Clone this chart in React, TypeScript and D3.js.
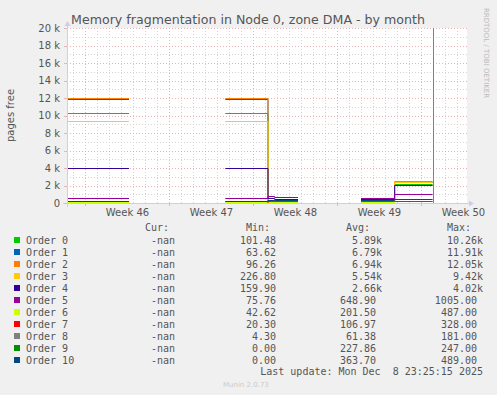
import React, { useEffect, useRef } from 'react';
import * as d3 from 'd3';

// time is in days from the left edge of the plot
const weekStarts = [1.54, 8.54, 15.54, 22.54, 29.54];
const weekLabels = ['Week 46', 'Week 47', 'Week 48', 'Week 49', 'Week 50'];
const sampleTimes = [0, 5.17, 13.19, 16.75, 17.3, 19.25, 24.5, 27.3, 30.47];
const spikeTimes = [30.47];

const seriesNames = ['Order 0', 'Order 1', 'Order 2', 'Order 3', 'Order 4', 'Order 5', 'Order 6', 'Order 7', 'Order 8', 'Order 9', 'Order 10'];
const seriesColors = ['#00cc00', '#0066b3', '#ff8000', '#ffcc00', '#330099', '#990099', '#ccff00', '#ff0000', '#808080', '#008f00', '#00487d'];

// value held from sampleTimes[i] until sampleTimes[i+1]; null = no data
const order0 = [10260, null, 10260, 200, 180, null, 300, 2200, null];
const order1 = [11910, null, 11910, 150, 140, null, 200, 2350, null];
const order2 = [12050, null, 12050, 180, 170, null, 250, 2550, null];
const order3 = [9420, null, 9420, 230, 220, null, 230, 2450, null];
const order4 = [4020, null, 4020, 600, 500, null, 450, 2100, null];
const order5 = [540, null, 540, 830, 690, null, 540, 1005, null];
const order6 = [100, null, 100, 60, 60, null, 60, 50, null];
const order7 = [50, null, 50, 328, 300, null, 20, 30, null];
const order8 = [30, null, 30, 20, 20, null, 20, 20, null];
const order9 = [200, null, 200, 240, 230, null, 220, 247, null];
const order10 = [270, null, 270, 300, 300, null, 350, 430, null];
const seriesValues = [order0, order1, order2, order3, order4, order5, order6, order7, order8, order9, order10];

const yTicks = [0, 2000, 4000, 6000, 8000, 10000, 12000, 14000, 16000, 18000, 20000];
const yTickLabels = ['0', '2 k', '4 k', '6 k', '8 k', '10 k', '12 k', '14 k', '16 k', '18 k', '20 k'];

const curVals = ['-nan', '-nan', '-nan', '-nan', '-nan', '-nan', '-nan', '-nan', '-nan', '-nan', '-nan'];
const minVals = ['101.48', '63.62', '96.26', '226.80', '159.90', '75.76', '42.62', '20.30', '4.30', '0.00', '0.00'];
const avgVals = ['5.89k', '6.79k', '6.94k', '5.54k', '2.66k', '648.90', '201.50', '106.97', '61.38', '227.86', '363.70'];
const maxVals = ['10.26k', '11.91k', '12.05k', '9.42k', '4.02k', '1005.00', '487.00', '328.00', '181.00', '247.00', '489.00'];

const W = 497;
const H = 395;
const plot = { left: 67, right: 467, top: 28, bottom: 203 };
const sans = "'DejaVu Sans', sans-serif";
const mono = "'DejaVu Sans Mono', monospace";

export default function App() {
  const ref = useRef<SVGSVGElement>(null);

  useEffect(() => {
    document.body.style.margin = '0';
    const svg = d3.select(ref.current);
    svg.selectAll('*').remove();

    const x = d3.scaleLinear().domain([0, 400 / 12]).range([plot.left, plot.right]);
    const y = d3.scaleLinear().domain([0, 20000]).range([plot.bottom, plot.top]);

    svg.append('rect').attr('width', W).attr('height', H).attr('fill', '#f0f0f0');
    svg.append('rect')
      .attr('x', plot.left).attr('y', plot.top)
      .attr('width', plot.right - plot.left).attr('height', plot.bottom - plot.top)
      .attr('fill', '#ffffff');

    const grid = svg.append('g').attr('shape-rendering', 'crispEdges');
    // minor horizontal (every 1k)
    d3.range(1000, 20001, 2000).forEach((v) => {
      grid.append('line')
        .attr('x1', plot.left).attr('x2', plot.right)
        .attr('y1', Math.round(y(v)) + 0.5).attr('y2', Math.round(y(v)) + 0.5)
        .attr('stroke', '#d4d4d4').attr('stroke-dasharray', '1,2');
    });
    // minor vertical (every day)
    d3.range(0.54, 33.3, 1).forEach((d) => {
      grid.append('line')
        .attr('x1', Math.round(x(d)) + 0.5).attr('x2', Math.round(x(d)) + 0.5)
        .attr('y1', plot.top).attr('y2', plot.bottom)
        .attr('stroke', '#d4d4d4').attr('stroke-dasharray', '1,2');
    });
    // major horizontal
    yTicks.slice(1).forEach((v) => {
      grid.append('line')
        .attr('x1', plot.left).attr('x2', plot.right)
        .attr('y1', Math.round(y(v)) + 0.5).attr('y2', Math.round(y(v)) + 0.5)
        .attr('stroke', '#e6b4b4').attr('stroke-dasharray', '1,2');
    });
    // major vertical (weeks)
    weekStarts.forEach((d) => {
      grid.append('line')
        .attr('x1', Math.round(x(d)) + 0.5).attr('x2', Math.round(x(d)) + 0.5)
        .attr('y1', plot.top).attr('y2', plot.bottom)
        .attr('stroke', '#e6b4b4').attr('stroke-dasharray', '1,2');
      grid.append('line')
        .attr('x1', Math.round(x(d)) + 0.5).attr('x2', Math.round(x(d)) + 0.5)
        .attr('y1', plot.bottom).attr('y2', plot.bottom + 3)
        .attr('stroke', '#e6b4b4');
    });

    // data lines
    const lineGen = d3.line<[number, number]>()
      .x((p) => x(p[0]))
      .y((p) => Math.round(y(p[1])) + 0.5)
      .curve(d3.curveStepAfter);

    const lines = svg.append('g').attr('fill', 'none').attr('stroke-width', 1);
    seriesValues.forEach((vals, si) => {
      let run: [number, number][] = [];
      const flush = () => {
        if (run.length > 1) {
          lines.append('path').attr('d', lineGen(run)).attr('stroke', seriesColors[si]);
        }
        run = [];
      };
      vals.forEach((v, i) => {
        if (v == null) {
          if (run.length) run.push([sampleTimes[i], run[run.length - 1][1]]);
          flush();
        } else {
          run.push([sampleTimes[i], v]);
        }
      });
      flush();
    });

    spikeTimes.forEach((t) => {
      svg.append('line')
        .attr('x1', Math.round(x(t)) + 0.5).attr('x2', Math.round(x(t)) + 0.5)
        .attr('y1', plot.bottom).attr('y2', plot.top)
        .attr('stroke', seriesColors[8]).attr('stroke-width', 1);
    });

    // axes
    const axisColor = '#c8cff2';
    svg.append('line')
      .attr('x1', plot.left - 4).attr('x2', plot.right + 2)
      .attr('y1', plot.bottom + 0.5).attr('y2', plot.bottom + 0.5)
      .attr('stroke', axisColor);
    svg.append('line')
      .attr('x1', plot.left + 0.5).attr('x2', plot.left + 0.5)
      .attr('y1', plot.bottom + 4).attr('y2', plot.top - 2)
      .attr('stroke', axisColor);
    svg.append('path')
      .attr('d', `M${plot.right + 2},${plot.bottom - 2.5} L${plot.right + 7},${plot.bottom + 0.5} L${plot.right + 2},${plot.bottom + 3.5} Z`)
      .attr('fill', axisColor);
    svg.append('path')
      .attr('d', `M${plot.left - 2.5},${plot.top - 2} L${plot.left + 0.5},${plot.top - 7} L${plot.left + 3.5},${plot.top - 2} Z`)
      .attr('fill', axisColor);

    // y labels
    yTicks.forEach((v, i) => {
      svg.append('line')
        .attr('x1', plot.left - 3).attr('x2', plot.left)
        .attr('y1', Math.round(y(v)) + 0.5).attr('y2', Math.round(y(v)) + 0.5)
        .attr('stroke', '#e6b4b4');
      svg.append('text')
        .attr('x', 60).attr('y', y(v) + 3.5)
        .attr('text-anchor', 'end')
        .attr('font-family', sans).attr('font-size', 10).attr('fill', '#555')
        .text(yTickLabels[i]);
    });

    // x labels
    weekStarts.forEach((d, i) => {
      svg.append('text')
        .attr('x', x(d + 3.5)).attr('y', 216)
        .attr('text-anchor', 'middle')
        .attr('font-family', sans).attr('font-size', 10).attr('fill', '#555')
        .text(weekLabels[i]);
    });

    svg.append('text')
      .attr('x', 248).attr('y', 24)
      .attr('text-anchor', 'middle')
      .attr('font-family', sans).attr('font-size', 12.6).attr('fill', '#555')
      .text('Memory fragmentation in Node 0, zone DMA - by month');

    svg.append('text')
      .attr('transform', `translate(14,${(plot.top + plot.bottom) / 2}) rotate(-90)`)
      .attr('text-anchor', 'middle')
      .attr('font-family', sans).attr('font-size', 10).attr('fill', '#555')
      .text('pages free');

    svg.append('text')
      .attr('transform', 'translate(484,53) rotate(90)')
      .attr('text-anchor', 'middle')
      .attr('font-family', sans).attr('font-size', 7).attr('fill', '#bbbbbb')
      .text('RRDTOOL / TOBI OETIKER');

    // legend
    const leg = svg.append('g').attr('font-family', mono).attr('font-size', 10).attr('fill', '#555');
    const headers: [string, number][] = [['Cur:', 145], ['Min:', 246], ['Avg:', 346], ['Max:', 447]];
    headers.forEach(([t, hx]) => {
      leg.append('text').attr('x', hx).attr('y', 231).text(t);
    });
    seriesNames.forEach((name, i) => {
      const cy = 240 + 12 * i;
      leg.append('rect')
        .attr('x', 14).attr('y', cy - 3).attr('width', 6).attr('height', 6)
        .attr('fill', seriesColors[i]);
      leg.append('text').attr('x', 26).attr('y', cy + 3.5).text(name);
      leg.append('text').attr('x', 175).attr('y', cy + 3.5).attr('text-anchor', 'end').text(curVals[i]);
      leg.append('text').attr('x', 276).attr('y', cy + 3.5).attr('text-anchor', 'end').text(minVals[i]);
      const a = avgVals[i];
      leg.append('text').attr('x', a.endsWith('k') ? 382 : 376).attr('y', cy + 3.5).attr('text-anchor', 'end').text(a);
      const m = maxVals[i];
      leg.append('text').attr('x', m.endsWith('k') ? 483 : 477).attr('y', cy + 3.5).attr('text-anchor', 'end').text(m);
    });
    leg.append('text')
      .attr('x', 483).attr('y', 374.5).attr('text-anchor', 'end')
      .attr('xml:space', 'preserve').style('white-space', 'pre')
      .text('Last update: Mon Dec  8 23:25:15 2025');

    svg.append('text')
      .attr('x', 223).attr('y', 386.5)
      .attr('font-family', sans).attr('font-size', 7).attr('fill', '#cccccc')
      .text('Munin 2.0.73');
  }, []);

  return <svg ref={ref} width={W} height={H} style={{ display: 'block' }} />;
}
